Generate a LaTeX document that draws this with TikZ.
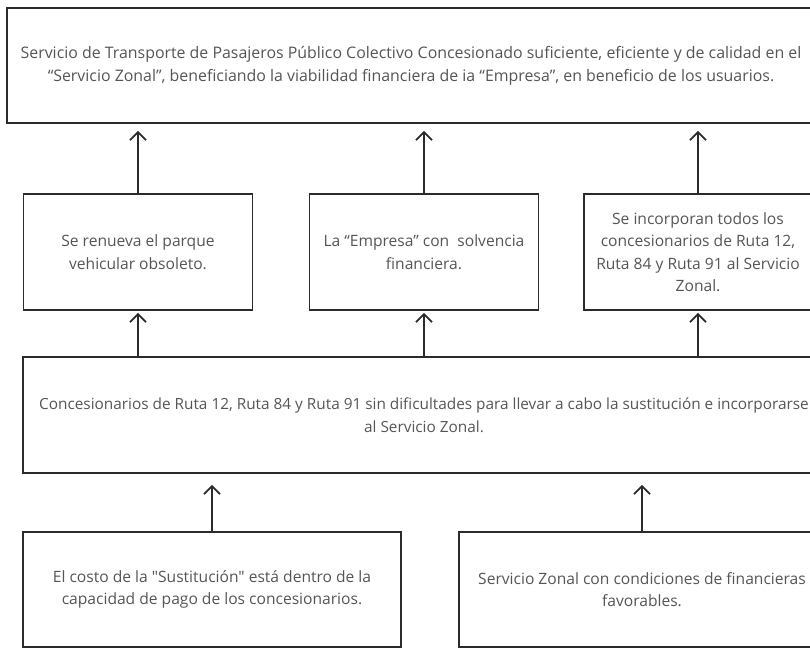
\documentclass[tikz,border=0pt]{standalone}
\usepackage{fontspec}
\setmainfont{Open Sans}[Ligatures=TeXOff]
\usepackage{tikz}
\usetikzlibrary{arrows.meta, positioning}
\definecolor{boxline}{HTML}{2B2B2B}
\definecolor{boxtext}{HTML}{555555}

\begin{document}
\begin{tikzpicture}[
    x=1pt, y=-1pt,
    box/.style={rectangle, draw=boxline, line width=1.8pt, align=center, text=boxtext, inner sep=0pt, minimum height=115pt, font=\fontsize{15.6}{22.5}\selectfont},
    arrow/.style={-{Straight Barb[length=8pt, width=16pt]}, draw=boxline, line width=1.8pt},
]
    \useasboundingbox (0,0) rectangle (810,648);
    \clip (0,0) rectangle (810,648);

    % result at the top
    \node[box, minimum width=808pt, font=\fontsize{15.9}{22.8}\selectfont] (goal) at (411,65.5) {Servicio de Transporte de Pasajeros Público Colectivo Concesionado suficiente, eficiente y de calidad en el\\“Servicio Zonal”, beneficiando la viabilidad financiera de ia “Empresa”, en beneficio de los usuarios.};

    % middle row
    \node[box, minimum width=229pt, minimum height=116pt] (renewal) at (138,252) {Se renueva el parque\\vehicular obsoleto.};
    \node[box, minimum width=229pt, minimum height=116pt] (solvency) at (424,252) {La “Empresa” con\ \ solvencia\\financiera.};
    \node[box, minimum width=228pt, minimum height=116pt] (joining) at (698,252) {Se incorporan todos los\\concesionarios de Ruta 12,\\Ruta 84 y Ruta 91 al Servicio\\Zonal.};

    \node[box, minimum width=802pt, minimum height=116pt, font=\fontsize{15.35}{22.5}\selectfont] (concess) at (424,415) {Concesionarios de Ruta 12, Ruta 84 y Ruta 91 sin dificultades para llevar a cabo la sustitución e incorporarse\\al Servicio Zonal.};

    % causes at the bottom
    \node[box, minimum width=378pt] (cost) at (212,589.5) {El costo de la "Sustitución" está dentro de la\\capacidad de pago de los concesionarios.};
    \node[box, minimum width=366pt] (terms) at (642,589.5) {Servicio Zonal con condiciones de financieras\\favorables.};

    \draw[arrow, shorten >=7pt] (renewal) -- (goal.south -| renewal);
    \draw[arrow, shorten >=7pt] (solvency) -- (goal.south -| solvency);
    \draw[arrow, shorten >=7pt] (joining) -- (goal.south -| joining);
    \draw[arrow, shorten >=2pt] (concess.north -| renewal) -- (renewal);
    \draw[arrow, shorten >=2pt] (concess.north -| solvency) -- (solvency);
    \draw[arrow, shorten >=2pt] (concess.north -| joining) -- (joining);
    \draw[arrow, shorten >=11pt] (cost) -- (concess.south -| cost);
    \draw[arrow, shorten >=11pt] (terms) -- (concess.south -| terms);
\end{tikzpicture}
\end{document}
